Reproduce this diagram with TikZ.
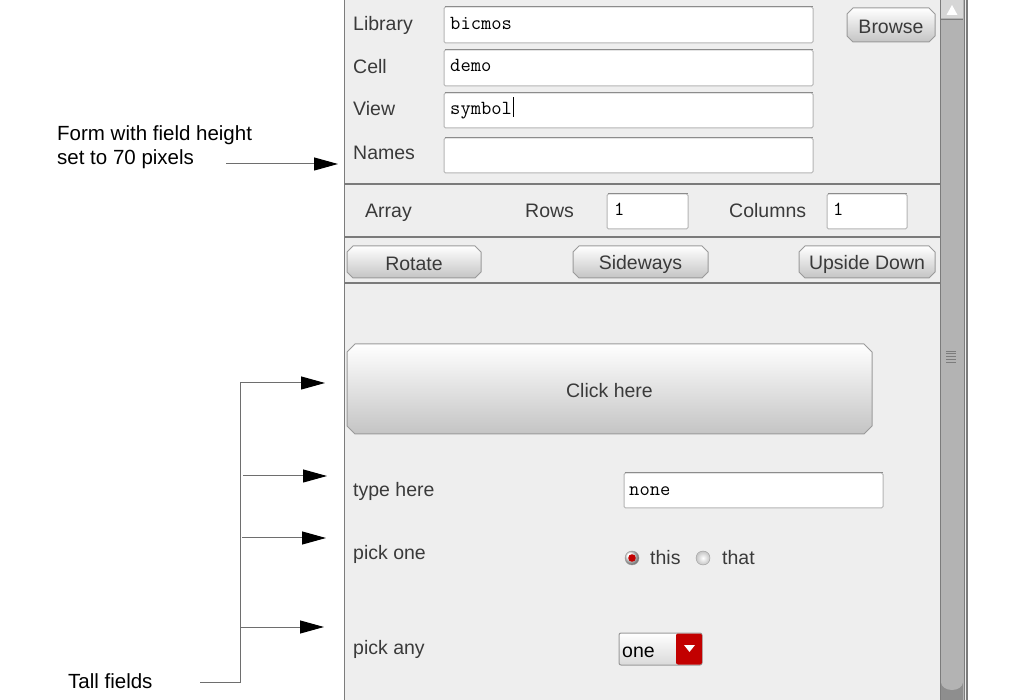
\documentclass[tikz,border=0pt]{standalone}
\usepackage{fontspec}
\setmainfont{Liberation Sans}
\usetikzlibrary{arrows.meta}
\definecolor{panelbg}{HTML}{EEEEEE}
\definecolor{labelc}{HTML}{3A3A3A}
\definecolor{fieldc}{HTML}{B4B4B4}
\definecolor{fieldtop}{HTML}{8C8C8C}
\definecolor{sepc}{HTML}{7A7A7A}
\definecolor{connc}{HTML}{6E6E6E}
\definecolor{btnlo}{HTML}{C4C4C4}
\definecolor{btnedge}{HTML}{9A9A9A}
\definecolor{scrollc}{HTML}{B3B3B3}
\definecolor{scrolltop}{HTML}{D6D6D6}
\definecolor{scrolldark}{HTML}{8E8E8E}
\definecolor{scrolledge}{HTML}{7C7C7C}
\definecolor{gripc}{HTML}{7C7C7C}
\definecolor{ddlo}{HTML}{DADADA}
\definecolor{ddred}{HTML}{C20000}
\newcommand\guibtn[7]{%
  \shade[top color=white,bottom color=btnlo,draw=btnedge,line width=1pt]
    (#2+#7,#3) -- (#4-#7,#3) -- (#4,#3+#7) -- (#4,#5-#7) -- (#4-#7,#5)
    -- (#2+#7,#5) -- (#2,#5-#7) -- (#2,#3+#7) -- cycle;
  \node[btntext] (#1) at ({(#2+#4)/2},{(#3+#5)/2+2}) {#6};}
\begin{document}
\begin{tikzpicture}[x=1pt,y=-1pt,
  lbl/.style={anchor=base west,inner sep=0,text=labelc,font=\fontsize{19.5}{22}\selectfont},
  btntext/.style={inner sep=0,text=labelc,font=\fontsize{19.5}{22}\selectfont},
  note/.style={anchor=base west,inner sep=0,text=black,font=\fontsize{20.5}{24}\selectfont},
  mono/.style={anchor=base west,inner sep=0,text=black,font=\ttfamily\fontsize{20}{22}\selectfont\addfontfeatures{FakeBold=1}},
  field/.style={fill=white,draw=fieldc,line width=1pt,inner sep=0,rounded corners=1.5},
  sep/.style={draw=sepc,line width=2pt},
  conn/.style={draw=connc,line width=1pt},
  arr/.style={conn,-{Triangle[length=24pt,width=13pt,color=black]}}]
\useasboundingbox (0,0) rectangle (1013,700);
\fill[white] (0,0) rectangle (1013,700);
% panel
\fill[panelbg] (344,0) rectangle (967,700);
\draw[scrolledge,line width=1pt] (344,0) -- (344,700);
\draw[scrolledge,line width=1.2pt] (967,0) -- (967,700);
% scrollbar
\fill[scrollc] (940,0) rectangle (964,700);
\fill[scrolltop] (941,0) rectangle (963,18);
\fill[white] (946.5,15) -- (957.5,15) -- (952,5) -- cycle;
\draw[scrolledge,line width=1.2pt] (941,19.5) -- (963,19.5);
\fill[scrolldark] (941,683) rectangle (963,700);
\fill[scrollc] (952,682) ellipse [x radius=11,y radius=8];
\draw[scrolledge,line width=1pt] (940,0) -- (940,700) (964,0) -- (964,700);
\foreach \i in {0,...,4}{\draw[gripc,line width=0.7pt] (946,351+2.8*\i) -- (956,351+2.8*\i);}
% top fields
\node[lbl] (llib) at (353,31) {Library};
\node[lbl] (lcell) at (353,74) {Cell};
\node[lbl] (lview) at (353,116) {View};
\node[lbl] (lnames) at (353,160) {Names};
\node[field,minimum width=369,minimum height=36] (flib) at (628.5,25) {};
\node[field,minimum width=369,minimum height=36] (fcell) at (628.5,68) {};
\node[field,minimum width=369,minimum height=35] (fview) at (628.5,110.5) {};
\node[field,minimum width=369,minimum height=35] (fnames) at (628.5,155.5) {};
\foreach \f in {flib,fcell,fview,fnames}{\draw[fieldtop,line width=1pt] ([xshift=1pt]\f.north west) -- ([xshift=-1pt]\f.north east);}
\node[mono] (tlib) at (450,30) {bicmos};
\node[mono] (tcell) at (450,72) {demo};
\node[mono] (tview) at (450,115) {symbol};
\draw[black,line width=1.2pt] (tview.base east) ++(1,2) -- ++(0,-20);
\guibtn{browse}{847}{8}{935}{42}{Browse}{6}
\draw[sep] (344,184) -- (940,184);
% array row
\node[lbl] (larray) at (365,218) {Array};
\node[lbl] (lrows) at (525,218) {Rows};
\node[lbl] (lcols) at (729,218) {Columns};
\node[field,minimum width=81,minimum height=35] (frows) at (647.5,211.5) {};
\node[field,minimum width=80,minimum height=35] (fcols) at (867,211.5) {};
\foreach \f in {frows,fcols}{\draw[fieldtop,line width=1pt] ([xshift=1pt]\f.north west) -- ([xshift=-1pt]\f.north east);}
\node[mono] (trows) at (614,216) {1};
\node[mono] (tcols) at (833,216) {1};
\draw[sep] (344,237) -- (940,237);
% buttons
\guibtn{rotate}{347}{246}{481}{278}{Rotate}{6}
\guibtn{sideways}{573}{246}{708}{278}{Sideways}{6}
\guibtn{upside}{799}{246}{935}{278}{Upside Down}{6}
\draw[sep] (344,283) -- (940,283);
% lower section
\guibtn{click}{347}{344}{872}{434}{Click here}{8}
\node[lbl] (ltype) at (353,497) {type here};
\node[field,minimum width=259,minimum height=35] (ftype) at (753.5,490.5) {};
\draw[fieldtop,line width=1pt] ([xshift=1pt]ftype.north west) -- ([xshift=-1pt]ftype.north east);
\node[mono] (ttype) at (629,496) {none};
\node[lbl] (lpick) at (353,560) {pick one};
\shade[ball color=white,draw=btnedge] (632,558) circle [radius=7];
\fill[ddred] (632,558) circle [radius=3.8];
\node[lbl] (tthis) at (650,565) {this};
\shade[inner color=white,outer color=btnlo,draw=btnedge] (703,558) circle [radius=7];
\node[lbl] (tthat) at (722,565) {that};
\node[lbl] (lany) at (353,654) {pick any};
\node[draw=btnedge,line width=1pt,top color=white,bottom color=ddlo,minimum width=83,minimum height=32,inner sep=0,rounded corners=2] (dd) at (660.5,649) {};
\fill[ddred,rounded corners=2] (676,633.5) -- (702,633.5) -- (702,664.5) -- (676,664.5) -- cycle;
\fill[white] (684,645) -- (695,645) -- (689.5,652) -- cycle;
\node[anchor=base west,inner sep=0,text=black,font=\fontsize{19.5}{22}\selectfont] (tone) at (622,657) {one};
% annotations
\node[note] (form1) at (57,141) {Form with field height};
\node[note] (form2) at (57,165) {set to 70 pixels};
\coordinate (fa) at (226,164);
\coordinate (fb) at (338,164);
\draw[arr] (fa) -- (fb);
\node[note] (tall) at (68,688) {Tall fields};
\coordinate (t0) at (200,682);
\coordinate (tj) at (240,682);
\coordinate (b1) at (240,383);
\coordinate (e1) at (325,383);
\coordinate (b2) at (243,476);
\coordinate (e2) at (327,476);
\coordinate (b3) at (242,538);
\coordinate (e3) at (326,538);
\coordinate (b4) at (240,627);
\coordinate (e4) at (324,627);
\draw[conn] (t0) -- (tj) -- (b1);
\draw[arr] (b1) -- (e1);
\draw[arr] (b2) -- (e2);
\draw[arr] (b3) -- (e3);
\draw[arr] (b4) -- (e4);
\end{tikzpicture}
\end{document}
